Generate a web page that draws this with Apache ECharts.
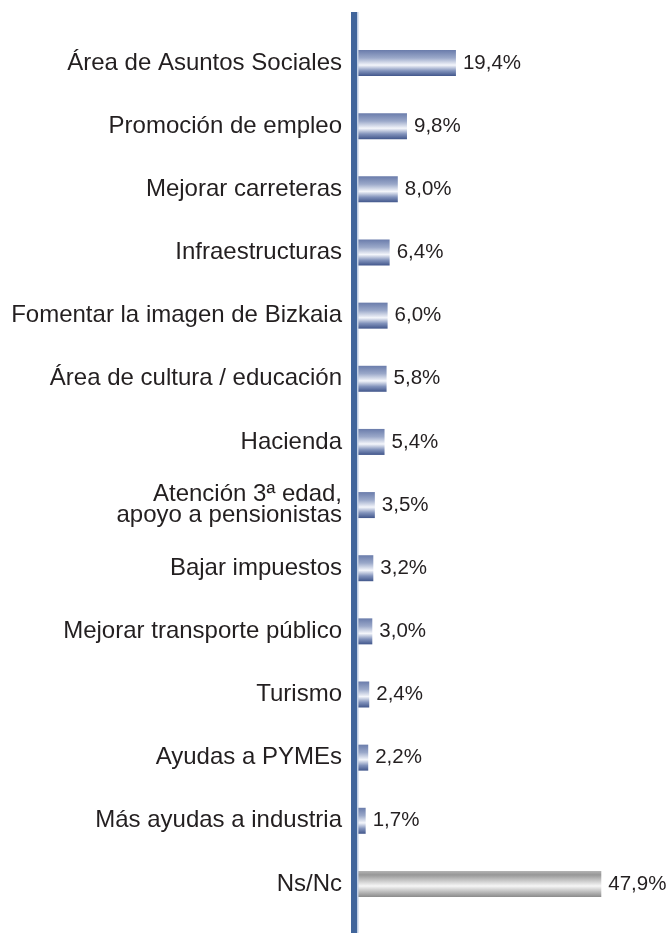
<!DOCTYPE html>
<html>
<head>
<meta charset="utf-8">
<script src="https://cdn.jsdelivr.net/npm/echarts@6/dist/echarts.min.js"></script>
<style>
  html, body { margin: 0; padding: 0; background: #fff; }
  #chart { width: 671px; height: 933px; }
</style>
</head>
<body>
<div id="chart"></div>
<script>
// categorias (de arriba a abajo)
var categorias = [
   'Área de Asuntos Sociales',
   'Promoción de empleo',
   'Mejorar carreteras',
   'Infraestructuras',
   'Fomentar la imagen de Bizkaia',
   'Área de cultura / educación',
   'Hacienda',
   'Atención 3ª edad,\napoyo a pensionistas',
   'Bajar impuestos',
   'Mejorar transporte público',
   'Turismo',
   'Ayudas a PYMEs',
   'Más ayudas a industria',
   'Ns/Nc'
];
// porcentajes
var valores = [19.4, 9.8, 8.0, 6.4, 6.0, 5.8, 5.4, 3.5, 3.2, 3.0, 2.4, 2.2, 1.7, 47.9];
// la ultima barra (Ns/Nc) va en gris
var grises = ['Ns/Nc'];

function gradAzul() {
   return new echarts.graphic.LinearGradient(0, 0, 0, 1, [
      { offset: 0, color: '#6a7cab' },
      { offset: 0.3, color: '#9aa8c9' },
      { offset: 0.58, color: '#f4f6fb' },
      { offset: 0.8, color: '#8192bb' },
      { offset: 1, color: '#41568b' }
   ]);
}
function gradGris() {
   return new echarts.graphic.LinearGradient(0, 0, 0, 1, [
      { offset: 0, color: '#b4b4b4' },
      { offset: 0.15, color: '#979797' },
      { offset: 0.58, color: '#f6f6f6' },
      { offset: 0.85, color: '#b0b0b0' },
      { offset: 1, color: '#8c8c8c' }
   ]);
}

var datos = [];
for (var i = 0; i < valores.length; i++) {
   datos.push({
      value: valores[i],
      itemStyle: { color: grises.indexOf(categorias[i]) >= 0 ? gradGris() : gradAzul() }
   });
}

var chart = echarts.init(document.getElementById('chart'));
var opt = {
   animation: false,
   grid: { left: 357, right: 8, top: 31.5, bottom: 17.5 },
   xAxis: {
      type: 'value',
      min: 0,
      max: 60,
      show: false
   },
   yAxis: {
      type: 'category',
      inverse: true,
      data: categorias,
      axisLine: { show: false },
      axisTick: { show: false },
      axisLabel: {
         margin: 15,
         color: '#231f20',
         fontFamily: 'Liberation Sans',
         fontSize: 24,
         lineHeight: 21
      }
   },
   graphic: [
      // eje vertical
      { type: 'rect', shape: { x: 351, y: 12, width: 6, height: 921 }, style: { fill: '#41659b' }, z: 10 },
      { type: 'rect', shape: { x: 357, y: 12, width: 1.5, height: 921 }, style: { fill: '#c0cee4' }, z: 10 }
   ],
   series: [{
      type: 'bar',
      barWidth: 26,
      data: datos,
      label: {
         show: true,
         position: 'right',
         distance: 7,
         color: '#231f20',
         fontFamily: 'Liberation Sans',
         fontSize: 20.5,
         formatter: function (p) {
            return p.value.toFixed(1).replace('.', ',') + '%';
         }
      }
   }]
};
chart.setOption(opt);
</script>
</body>
</html>
